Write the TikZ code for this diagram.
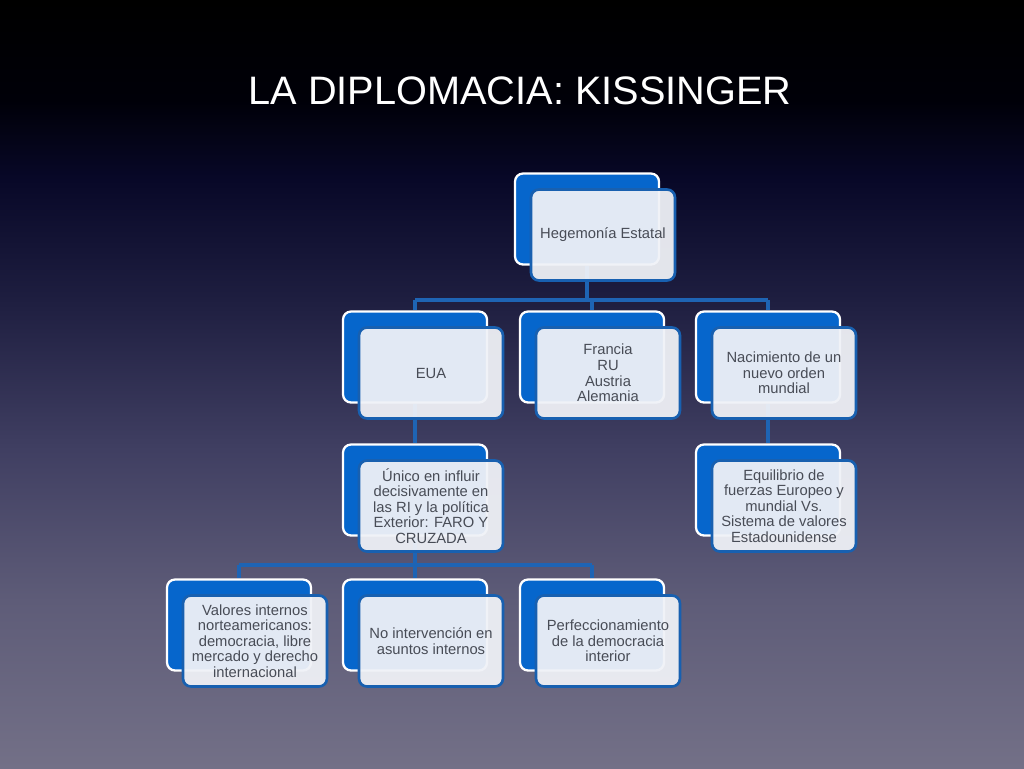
\documentclass[tikz,border=0pt]{standalone}
\usepackage{fontspec}
\setmainfont{Liberation Sans}
\usepackage{xcolor}
\definecolor{boxblue}{RGB}{6,102,204}
\definecolor{edgeblue}{RGB}{24,96,176}
\definecolor{linkblue}{RGB}{30,100,180}
\definecolor{boxface}{RGB}{240,242,247}
\definecolor{boxtext}{RGB}{72,76,86}
\definecolor{bgA}{RGB}{115,112,135}
\definecolor{bgB}{RGB}{94,92,120}
\definecolor{bgC}{RGB}{64,63,98}
\definecolor{bgD}{RGB}{30,30,64}
\definecolor{bgE}{RGB}{8,8,40}
\definecolor{bgF}{RGB}{0,0,8}
\definecolor{bgG}{RGB}{0,0,0}
\pgfdeclareverticalshading{slidebg}{100bp}{%
  color(0bp)=(bgA); color(25bp)=(bgA); color(35.9bp)=(bgB);
  color(45.7bp)=(bgC); color(55.5bp)=(bgD); color(63.3bp)=(bgE);
  color(68.5bp)=(bgF); color(75bp)=(bgG); color(100bp)=(bgG)}
\pgfdeclarelayer{bg}
\pgfdeclarelayer{links}
\pgfsetlayers{bg,links,main}

\begin{document}
\begin{tikzpicture}[x=0.02cm, y=-0.02cm,
  backbox/.style={draw=white, line width=1.3pt, fill=boxblue, rounded corners=0.16cm,
    minimum width=2.88cm, minimum height=1.82cm, inner sep=0pt},
  frontbox/.style={draw=edgeblue, line width=1.5pt, fill=boxface, fill opacity=0.94,
    text opacity=1, rounded corners=0.16cm, minimum width=2.88cm, minimum height=1.82cm,
    inner sep=0pt, align=center, text=boxtext, xshift=0.32cm, yshift=-0.32cm,
    font=\fontsize{8.4}{8.9}\selectfont},
  link/.style={draw=linkblue, line width=2pt}]
\begin{pgfonlayer}{bg}
\shade[shading=slidebg] (0,0) rectangle (1024,768);
\end{pgfonlayer}
\node[text=white, font=\fontsize{22.6}{27}\selectfont] (ttl) at (520,91) {LA DIPLOMACIA: KISSINGER};

% top level
\node[backbox] (heg) at (587,219) {};
\node[frontbox] (heg-f) at (heg) {Hegemonía Estatal};

% second row
\node[backbox] (eua) at (415,357) {};
\node[frontbox] (eua-f) at (eua) {EUA};
\node[backbox] (fra) at (592,357) {};
\node[frontbox] (fra-f) at (fra) {Francia\\RU\\Austria\\Alemania};
\node[backbox] (nac) at (768,357) {};
\node[frontbox] (nac-f) at (nac) {Nacimiento de un\\nuevo orden\\mundial};

% third row
\node[backbox] (uni) at (415,490) {};
\node[frontbox] (uni-f) at (uni) {Único en influir\\decisivamente en\\las RI y la política\\Exterior: FARO Y\\CRUZADA};
\node[backbox] (equ) at (768,490) {};
\node[frontbox] (equ-f) at (equ) {Equilibrio de\\fuerzas Europeo y\\mundial Vs.\\Sistema de valores\\Estadounidense};

% bottom row
\node[backbox] (val) at (239,625) {};
\node[frontbox] (val-f) at (val) {Valores internos\\norteamericanos:\\democracia, libre\\mercado y derecho\\internacional};
\node[backbox] (noi) at (415,625) {};
\node[frontbox] (noi-f) at (noi) {No intervención en\\asuntos internos};
\node[backbox] (per) at (592,625) {};
\node[frontbox] (per-f) at (per) {Perfeccionamiento\\de la democracia\\interior};

\begin{pgfonlayer}{links}
\coordinate (bus1) at (587,300);
\coordinate (bus2) at (415,565);
\draw[link] (heg.south) -- (bus1);
\draw[link] (bus1 -| eua) -- (bus1 -| nac);
\draw[link] (bus1 -| eua) -- (eua.north);
\draw[link] (bus1 -| fra) -- (fra.north);
\draw[link] (bus1 -| nac) -- (nac.north);
\draw[link] (eua.south) -- (uni.north);
\draw[link] (nac.south) -- (equ.north);
\draw[link] (uni.south) -- (bus2);
\draw[link] (bus2 -| val) -- (bus2 -| per);
\draw[link] (bus2 -| val) -- (val.north);
\draw[link] (bus2 -| per) -- (per.north);
\draw[link] (bus2) -- (noi.north);
\end{pgfonlayer}
\end{tikzpicture}
\end{document}
